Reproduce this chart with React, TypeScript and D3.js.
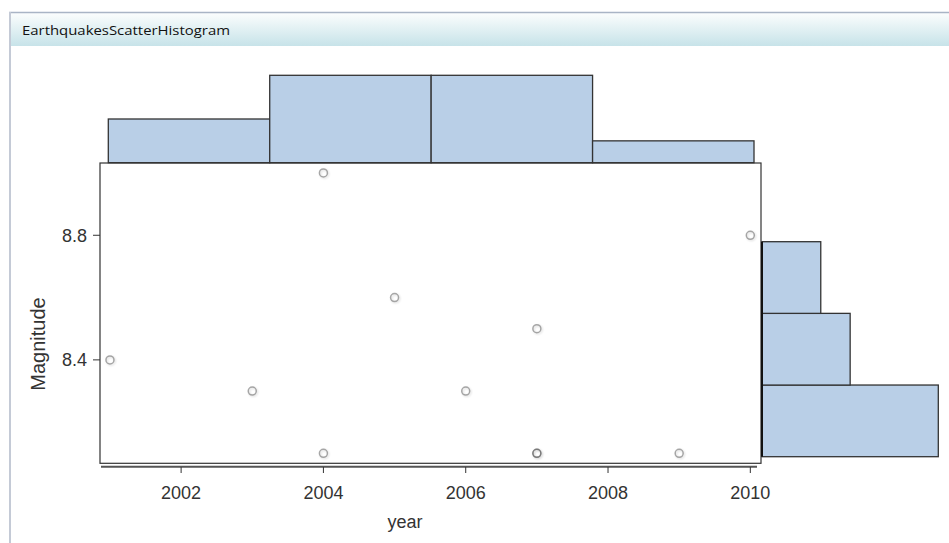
import React from "react";
import * as d3 from "d3";

const years = [2001, 2003, 2004, 2004, 2005, 2006, 2007, 2007, 2007, 2009, 2010];
const magnitudes = [8.4, 8.3, 9.0, 8.1, 8.6, 8.3, 8.5, 8.1, 8.1, 8.1, 8.8];
const yearBinCounts = [2, 4, 4, 1];
const magBinCounts = [6, 3, 2]; // bottom to top
const yearTicks = [2002, 2004, 2006, 2008, 2010];
const magTicks = [8.4, 8.8];
const title = "EarthquakesScatterHistogram";

const W = 949;
const H = 543;

export default function App() {
  const x = d3.scaleLinear().domain([2000.86, 2010.15]).range([100, 761]);
  const y = d3.scaleLinear().domain([8.068, 9.032]).range([463.3, 163]);

  const topBinX = d3.scaleLinear().domain([0, yearBinCounts.length]).range([108.3, 754]);
  const topH = d3.scaleLinear().domain([0, 4]).range([162.7, 75.3]);

  const rightBinY = d3.scaleLinear().domain([0, magBinCounts.length]).range([456.7, 241.7]);
  const rightW = d3.scaleLinear().domain([0, 6]).range([762, 938.3]);

  const points = years.map((yr, i) => ({ yr, m: magnitudes[i] }));
  const tickFont = "'Liberation Sans', Arial, sans-serif";

  return (
    <svg
      width={W}
      height={H}
      style={{ position: "absolute", left: 0, top: 0, background: "#fff" }}
    >
      <defs>
        <linearGradient id="tb" x1="0" y1="0" x2="0" y2="1">
          <stop offset="0" stopColor="#fbfdfd" />
          <stop offset="1" stopColor="#c7e3e9" />
        </linearGradient>
        <filter id="sh" x="-50%" y="-50%" width="200%" height="200%">
          <feGaussianBlur in="SourceAlpha" stdDeviation="0.9" />
          <feOffset dx="0.6" dy="0.8" result="b" />
          <feComponentTransfer>
            <feFuncA type="linear" slope="0.3" />
          </feComponentTransfer>
          <feMerge>
            <feMergeNode />
            <feMergeNode in="SourceGraphic" />
          </feMerge>
        </filter>
      </defs>

      {/* panel frame */}
      <rect x={9} y={13} width={W - 9} height={33} fill="url(#tb)" />
      <line x1={9} x2={W} y1={12.5} y2={12.5} stroke="#a9b4c5" strokeWidth={1.5} />
      <line x1={10} x2={10} y1={12} y2={H} stroke="#c4cad6" strokeWidth={2} />
      <text
        x={22}
        y={35}
        fontFamily="'Open Sans', 'DejaVu Sans', sans-serif"
        fontSize={12}
        fill="#111"
        textLength={208}
        lengthAdjust="spacingAndGlyphs"
      >
        {title}
      </text>

      {/* top histogram */}
      {yearBinCounts.map((c, i) => (
        <rect
          key={"t" + i}
          x={topBinX(i)}
          y={topH(c)}
          width={topBinX(i + 1) - topBinX(i)}
          height={topH(0) - topH(c)}
          fill="#b9cfe7"
          stroke="#333"
          strokeWidth={1.3}
        />
      ))}

      {/* right histogram */}
      {magBinCounts.map((c, i) => (
        <rect
          key={"r" + i}
          x={rightW(0)}
          y={rightBinY(i + 1)}
          width={rightW(c) - rightW(0)}
          height={rightBinY(i) - rightBinY(i + 1)}
          fill="#b9cfe7"
          stroke="#333"
          strokeWidth={1.3}
        />
      ))}

      {/* scatter frame */}
      <rect x={100} y={163} width={661} height={300.3} fill="none" stroke="#333" strokeWidth={1.2} />
      <line x1={762} x2={762} y1={241.7} y2={456.7} stroke="#111" strokeWidth={2} />

      {/* bottom axis */}
      <line x1={101} x2={757} y1={466.8} y2={466.8} stroke="#555" strokeWidth={2} />
      {yearTicks.map((t) => (
        <g key={"xt" + t}>
          <line x1={x(t)} x2={x(t)} y1={467} y2={473} stroke="#333" strokeWidth={1} />
          <text
            x={x(t)}
            y={499}
            textAnchor="middle"
            fontFamily={tickFont}
            fontSize={18}
            fill="#333"
          >
            {t}
          </text>
        </g>
      ))}
      <text x={405} y={528} textAnchor="middle" fontFamily={tickFont} fontSize={18} fill="#333">
        year
      </text>

      {/* left axis */}
      {magTicks.map((t) => (
        <g key={"yt" + t}>
          <line x1={93} x2={100} y1={y(t)} y2={y(t)} stroke="#333" strokeWidth={1} />
          <text
            x={87}
            y={y(t) + 6.5}
            textAnchor="end"
            fontFamily={tickFont}
            fontSize={18}
            fill="#333"
          >
            {t.toFixed(1)}
          </text>
        </g>
      ))}
      <text
        transform={`translate(45,344) rotate(-90)`}
        textAnchor="middle"
        fontFamily={tickFont}
        fontSize={20}
        fill="#333"
      >
        Magnitude
      </text>

      {/* points */}
      <g filter="url(#sh)">
        {points.map((p, i) => (
          <circle
            key={"p" + i}
            cx={x(p.yr)}
            cy={y(p.m)}
            r={4}
            fill="none"
            stroke="#555"
            strokeOpacity={0.5}
            strokeWidth={1.5}
          />
        ))}
      </g>
    </svg>
  );
}
